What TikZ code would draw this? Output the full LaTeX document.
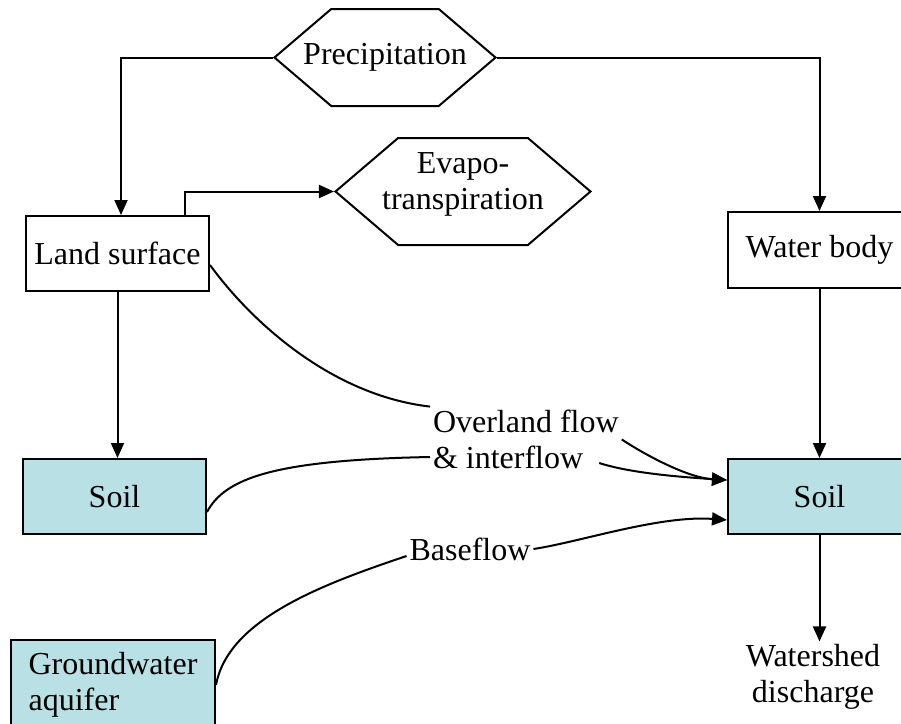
\documentclass[tikz,border=0pt]{standalone}
\usepackage{fontspec}
\setmainfont{Liberation Serif}
\usetikzlibrary{shapes.symbols,arrows.meta,calc}
\definecolor{soilblue}{RGB}{185,224,228}

\begin{document}
\begin{tikzpicture}[x=1pt,y=-1pt,line width=2pt,
    font=\fontsize{32}{36}\selectfont,
    box/.style={draw,rectangle,minimum width=183pt,minimum height=75pt,inner sep=0pt},
    soilbox/.style={box,fill=soilblue},
    hexa/.style={draw,signal,signal to=west and east,signal pointer angle=81,inner ysep=0pt},
    lbl/.style={inner sep=2pt},
    arr/.style={-{Triangle[length=15pt,width=13pt]}}]
    \clip (0,0) rectangle (901,723);
    %% stores
    \node[hexa,inner xsep=-28pt,minimum height=97pt] (precip) at (385,57.5) {Precipitation};
    \node[hexa,inner xsep=-16pt,minimum height=107pt,align=center,text depth=21pt] (evap) at (463,191.5) {Evapo-\\transpiration};
    \node[box] (land) at (117.5,253.5) {Land surface};
    \node[box,minimum height=76pt] (water) at (819.5,250) {Water body};
    \node[soilbox] (soilL) at (114.5,496.5) {Soil};
    \node[soilbox] (soilR) at (819.5,496.5) {Soil};
    \node[soilbox,minimum width=204pt,minimum height=90pt,align=left] (ground) at (113,685) {Groundwater\\aquifer};
    \node[lbl,align=center] (disch) at (813,677) {Watershed\\discharge};
    %% flow labels
    \node[lbl,anchor=west] (ovl1) at (430,421) {Overland flow};
    \node[lbl,anchor=west] (ovl2) at (430,457) {\& interflow};
    \node[lbl] (base) at (470,549) {Baseflow};
    %% straight arrows
    \draw[arr] (precip.west) -| ([xshift=3.5pt]land.north);
    \draw[arr] (precip.east) -| (water.north);
    \draw[arr] ([xshift=67pt]land.north) |- (evap.west);
    \draw[arr] (land.south) -- (land.south |- soilL.north);
    \draw[arr] (water.south) -- (soilR.north);
    \draw[arr] (soilR.south) -- (soilR.south |- disch.north);
    %% curved flows
    \draw ($(land.east)+(0,11.5)$) .. controls (250,320) and (330,395) .. (ovl1.north west);
    \draw ($(soilL.east)+(0,15.5)$) .. controls (225,478) and (275,460) .. (ovl2.west);
    \draw[arr] ($(ovl1.south east)+(0,4)$) .. controls (650,458) and (690,478) .. ($(soilR.west)+(0,-16.5)$);
    \draw[arr] ($(ovl2.east)+(13,6)$) .. controls (630,473) and (680,477) .. ($(soilR.west)+(0,-16.5)$);
    \draw (ground.east) .. controls (228,620) and (320,585) .. ($(base.west)+(0,7)$);
    \draw[arr] (base.east) .. controls (580,542) and (660,515) .. ($(soilR.west)+(0,23.5)$);
\end{tikzpicture}
\end{document}
